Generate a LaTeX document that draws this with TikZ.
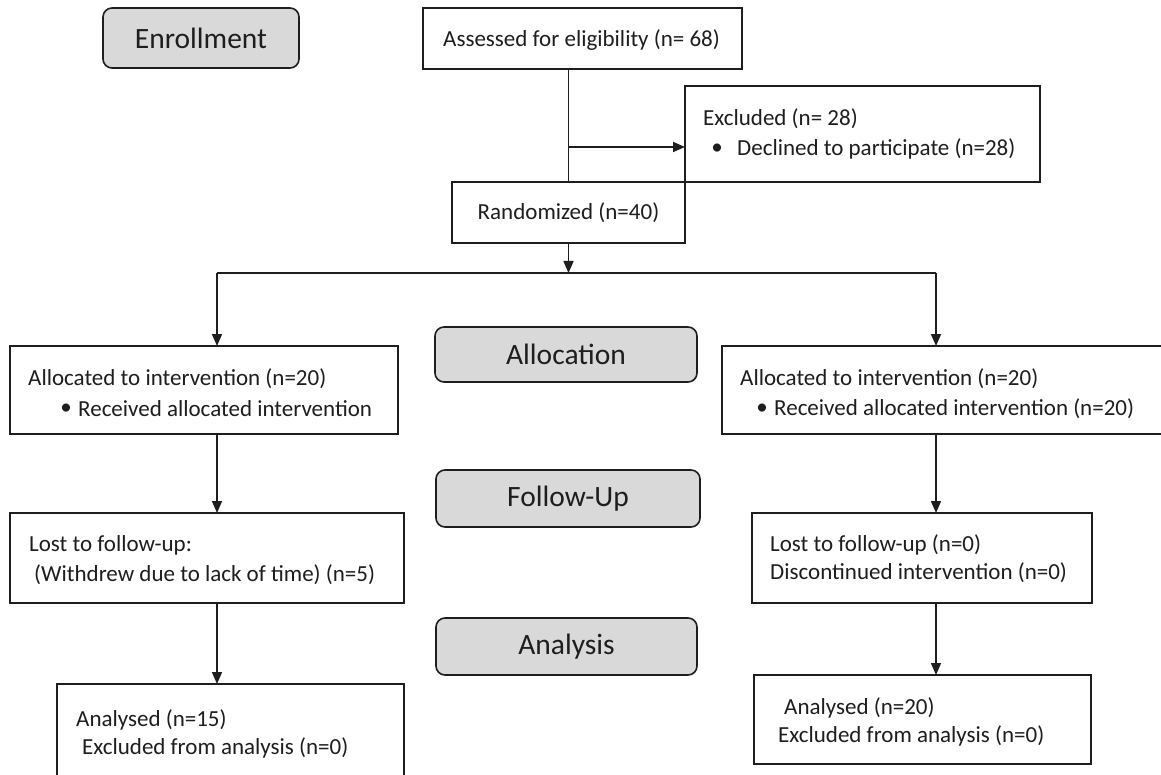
\documentclass[tikz,border=0pt]{standalone}
\usepackage{fontspec}
\setmainfont{Carlito}
\usetikzlibrary{arrows.meta}
\definecolor{stagegray}{HTML}{D9D9D9}
\definecolor{ink}{HTML}{1E1E1E}
\tikzset{
  box/.style={draw=ink, line width=1.6pt, rectangle, inner sep=0pt, outer sep=0pt, anchor=north west, fill=white},
  stage/.style={draw=ink, line width=1.6pt, rounded corners=9pt, fill=stagegray, inner sep=0pt, outer sep=0pt, anchor=north west, font=\fontsize{29.5}{34}\selectfont, text=ink},
  txt/.style={anchor=west, inner sep=0pt, font=\fontsize{23}{27}\selectfont, text=ink},
  conn/.style={draw=ink, line width=1.6pt},
  arr/.style={conn, -{Triangle[length=12pt,width=10pt]}},
}
\begin{document}
\begin{tikzpicture}[x=1pt,y=-1pt]
\clip (0,0) rectangle (1161,775);
\fill[white] (0,0) rectangle (1161,775);
% stage labels
\node[stage, minimum width=196pt, minimum height=60pt] (enroll) at (103,8) {Enrollment};
\node[stage, minimum width=262pt, minimum height=55pt] (allocation) at (435,327) {Allocation};
\node[stage, minimum width=264pt, minimum height=57pt] (followup) at (436,470) {Follow-Up};
\node[stage, minimum width=261pt, minimum height=57pt] (analysis) at (436,618) {Analysis};
% boxes
\node[box, minimum width=319pt, minimum height=61pt] (assess) at (423,8) {};
\node[box, minimum width=355pt, minimum height=96pt] (excl) at (685,86) {};
\node[box, minimum width=233pt, minimum height=61pt] (rand) at (452,182) {};
\node[box, minimum width=388pt, minimum height=88pt] (allocL) at (10,346) {};
\node[box, minimum width=445pt, minimum height=88pt] (allocR) at (722,346) {};
\node[box, minimum width=394pt, minimum height=90pt] (lostL) at (10,513) {};
\node[box, minimum width=340pt, minimum height=90pt] (lostR) at (752,513) {};
\node[box, minimum width=347pt, minimum height=130pt] (anaL) at (57,684) {};
\node[box, minimum width=337pt, minimum height=89pt] (anaR) at (754,675) {};
% texts
\node[txt] (assessT) at (443,40) {Assessed for eligibility (n= 68)};
\node[txt] (exclT1) at (703,119) {Excluded (n= 28)};
\node[txt, anchor=center] (exclB) at (717,149) {•};
\node[txt] (exclT2) at (737,149) {Declined to participate (n=28)};
\node[txt, anchor=center] (randT) at (rand.center) {Randomized (n=40)};
\node[txt] (allocLT1) at (28,379) {Allocated to intervention (n=20)};
\node[txt, anchor=center] (allocLB) at (66,409) {•};
\node[txt] (allocLT2) at (78,409) {Received allocated intervention};
\node[txt] (allocRT1) at (740,379) {Allocated to intervention (n=20)};
\node[txt, anchor=center] (allocRB) at (762,409) {•};
\node[txt] (allocRT2) at (774,409) {Received allocated intervention (n=20)};
\node[txt] (lostLT1) at (29,545) {Lost to follow-up:};
\node[txt] (lostLT2) at (34,575) {(Withdrew due to lack of time) (n=5)};
\node[txt] (lostRT1) at (770,545) {Lost to follow-up (n=0)};
\node[txt] (lostRT2) at (770,573) {Discontinued intervention (n=0)};
\node[txt] (anaLT1) at (76,720) {Analysed (n=15)};
\node[txt] (anaLT2) at (82,748) {Excluded from analysis (n=0)};
\node[txt] (anaRT1) at (784,708) {Analysed (n=20)};
\node[txt] (anaRT2) at (778,736) {Excluded from analysis (n=0)};
% connectors
\coordinate (brk) at (568.5,147);
\coordinate (splitC) at (568.5,273);
\coordinate (splitL) at (217,273);
\coordinate (splitR) at (936,273);
\draw[conn] (assess.south -| rand.north) -- (rand.north);
\draw[arr] (brk) -- (brk -| excl.west);
\draw[arr] (rand.south) -- (splitC);
\draw[conn] (splitL) -- (splitR);
\draw[arr] (splitL) -- (splitL |- allocL.north);
\draw[arr] (splitR) -- (splitR |- allocR.north);
\draw[arr] (splitL |- allocL.south) -- (splitL |- lostL.north);
\draw[arr] (splitL |- lostL.south) -- (splitL |- anaL.north);
\draw[arr] (splitR |- allocR.south) -- (splitR |- lostR.north);
\draw[arr] (splitR |- lostR.south) -- (splitR |- anaR.north);
\end{tikzpicture}
\end{document}
